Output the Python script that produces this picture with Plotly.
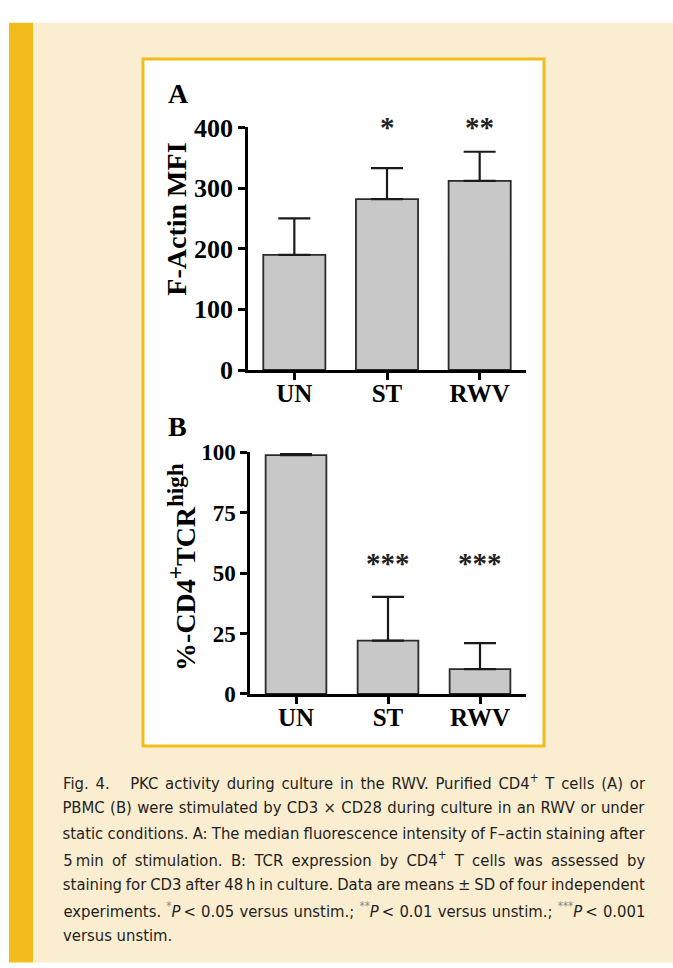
import plotly.graph_objects as go

# ---------------- data ----------------
categories = ["UN", "ST", "RWV"]

factin_mean = [190, 282, 312]
factin_sd = [60, 51, 48]
factin_sig = ["", "*", "**"]
factin_ticks = [0, 100, 200, 300, 400]

tcr_mean = [98.8, 22.1, 10.3]
tcr_sd = [0.4, 18.1, 10.7]
tcr_sig = ["", "***", "***"]
tcr_sig_level = 54
tcr_ticks = [0, 25, 50, 75, 100]

STAR = "<span style='color:#8a8a8a'><sup>{}</sup></span>"
caption_lines = [
    "Fig. 4.\u00a0\u00a0\u00a0PKC activity during culture in the RWV. Purified CD4<sup>+</sup> T cells (A) or",
    "PBMC (B) were stimulated by CD3 \u00d7 CD28 during culture in an RWV or under",
    "static conditions. A: The median fluorescence intensity of F\u2013actin staining after",
    "5\u2009min of stimulation. B: TCR expression by CD4<sup>+</sup> T cells was assessed by",
    "staining for CD3 after 48\u2009h in culture. Data are means \u00b1 SD of four independent",
    "experiments. " + STAR.format("*") + "<i>P</i>\u2009< 0.05 versus unstim.; "
    + STAR.format("**") + "<i>P</i>\u2009< 0.01 versus unstim.; "
    + STAR.format("***") + "<i>P</i>\u2009< 0.001",
    "versus unstim.",
]

# ---------------- geometry helpers ----------------
W, H = 673, 968


def px(x):
    return x / W


def py(y):
    return 1 - y / H


CREAM = "#FBEDD0"
GOLD = "#F2BD1C"
BAR = "#C8C8C8"
SERIF = "Liberation Serif, Times New Roman, serif"
CAP_FONT = "DejaVu Sans Condensed, Liberation Sans Narrow, Roboto, sans-serif"
CAP_LEFT, CAP_RIGHT = 63, 645

fig = go.Figure()

err_style = dict(type="data", symmetric=False, color="#1a1a1a", thickness=2.2, width=16)

fig.add_trace(go.Bar(
    x=categories, y=factin_mean, width=0.67,
    marker=dict(color=BAR, line=dict(color="#2a2a2a", width=1.8)),
    error_y=dict(array=factin_sd, arrayminus=[0] * len(factin_sd), **err_style),
    xaxis="x", yaxis="y", showlegend=False,
))
fig.add_trace(go.Bar(
    x=categories, y=tcr_mean, width=0.66,
    marker=dict(color=BAR, line=dict(color="#2a2a2a", width=1.8)),
    error_y=dict(array=tcr_sd, arrayminus=[0] * len(tcr_sd), **err_style),
    xaxis="x2", yaxis="y2", showlegend=False,
))

axis_common = dict(
    showline=True, linecolor="black", linewidth=2.5,
    ticks="outside", ticklen=7, tickwidth=2.5, tickcolor="black",
    showgrid=False, zeroline=False,
)


def tfont(size):
    return dict(family=SERIF, size=size, color="black", weight="bold")


fig.update_layout(
    width=W, height=H,
    margin=dict(l=0, r=0, t=0, b=0),
    paper_bgcolor="white", plot_bgcolor="rgba(0,0,0,0)",
    xaxis=dict(domain=[px(248), px(526)], anchor="y", range=[-0.5, 2.5],
               tickfont=tfont(25), ticklabelstandoff=-8, **axis_common),
    yaxis=dict(domain=[py(367), py(117)], anchor="x", range=[0, 400],
               tickvals=factin_ticks, tickfont=tfont(26), **axis_common),
    xaxis2=dict(domain=[px(250), px(526)], anchor="y2", range=[-0.5, 2.5],
                tickfont=tfont(25), ticklabelstandoff=-8, **axis_common),
    yaxis2=dict(domain=[py(701), py(451.7)], anchor="x2", range=[0, 100],
                tickvals=tcr_ticks, tickfont=tfont(23), **axis_common),
)

# background shapes
shapes = [
    dict(type="rect", xref="paper", yref="paper", x0=px(33), x1=1.01, y0=-0.01, y1=py(9),
         fillcolor=CREAM, line=dict(width=0), layer="below"),
    dict(type="rect", xref="paper", yref="paper", x0=px(9), x1=px(33), y0=-0.01, y1=py(9),
         fillcolor=GOLD, line=dict(width=0), layer="below"),
    dict(type="rect", xref="paper", yref="paper", x0=px(143), x1=px(544), y0=py(754.5), y1=py(46.5),
         fillcolor="white", line=dict(color=GOLD, width=3), layer="below"),
]
fig.update_layout(shapes=shapes)

annotations = []
# panel letters
annotations.append(dict(text="<b>A</b>", xref="paper", yref="paper", x=px(166), y=py(82),
                        xanchor="left", yanchor="middle", showarrow=False,
                        font=dict(family=SERIF, size=28, color="black")))
annotations.append(dict(text="<b>B</b>", xref="paper", yref="paper", x=px(166), y=py(425),
                        xanchor="left", yanchor="middle", showarrow=False,
                        font=dict(family=SERIF, size=28, color="black")))
# y titles
annotations.append(dict(text="<b>F-Actin MFI</b>", xref="paper", yref="paper", x=px(177), y=py(212),
                        xanchor="center", yanchor="middle", textangle=-90, showarrow=False,
                        font=dict(family=SERIF, size=28, color="black")))
annotations.append(dict(
    text="<b>%-CD4<sup><span style='font-size:23px'>+</span></sup>TCR"
         "<sup><span style='font-size:23px'>high</span></sup></b>",
    xref="paper", yref="paper", x=px(182), y=py(570),
    xanchor="center", yanchor="middle", textangle=-90, showarrow=False,
    font=dict(family=SERIF, size=28, color="black")))
# significance stars
for c, s in zip(categories, factin_sig):
    if s:
        annotations.append(dict(text="<b>" + s + "</b>", xref="x", yref="y", x=c, y=factin_ticks[-1],
                                yanchor="middle", showarrow=False,
                                font=dict(family=SERIF, size=29, color="#222")))
for c, s in zip(categories, tcr_sig):
    if s:
        annotations.append(dict(text="<b>" + s + "</b>", xref="x2", yref="y2", x=c, y=tcr_sig_level,
                                yanchor="middle", showarrow=False,
                                font=dict(family=SERIF, size=29, color="#222")))
# caption (all lines but the last are justified in the browser)
justify_idx = []
for i, line in enumerate(caption_lines):
    last = i == len(caption_lines) - 1
    if not last:
        justify_idx.append(len(annotations))
    annotations.append(dict(
        text=line, xref="paper", yref="paper",
        x=px(CAP_LEFT - 2) if last else px((CAP_LEFT + CAP_RIGHT) / 2),
        y=py(792 + 26.3 * i),
        xanchor="left" if last else "center", yanchor="middle", showarrow=False,
        font=dict(family=CAP_FONT, size=16.5, color="#1e1e1e")))

fig.update_layout(annotations=annotations)

post_js = """
document.body.style.margin = '0';
(function(){
  var gd = document.getElementById('{plot_id}');
  var L = %d, idx = %s;
  function justify(){
    idx.forEach(function(i){
      var t = gd.querySelector('g.annotation[data-index="' + i + '"] text.annotation-text');
      if (!t) return;
      t.style.wordSpacing = '0px';
      var w = t.getComputedTextLength();
      var n = (t.textContent.match(/[ \\u00a0]/g) || []).length;
      if (n > 0) t.style.wordSpacing = ((L - w) / n) + 'px';
    });
  }
  justify();
  if (gd.on) gd.on('plotly_afterplot', justify);
})();
""" % (CAP_RIGHT - CAP_LEFT, str(justify_idx))

fig.write_html("out.html", post_script=post_js)
